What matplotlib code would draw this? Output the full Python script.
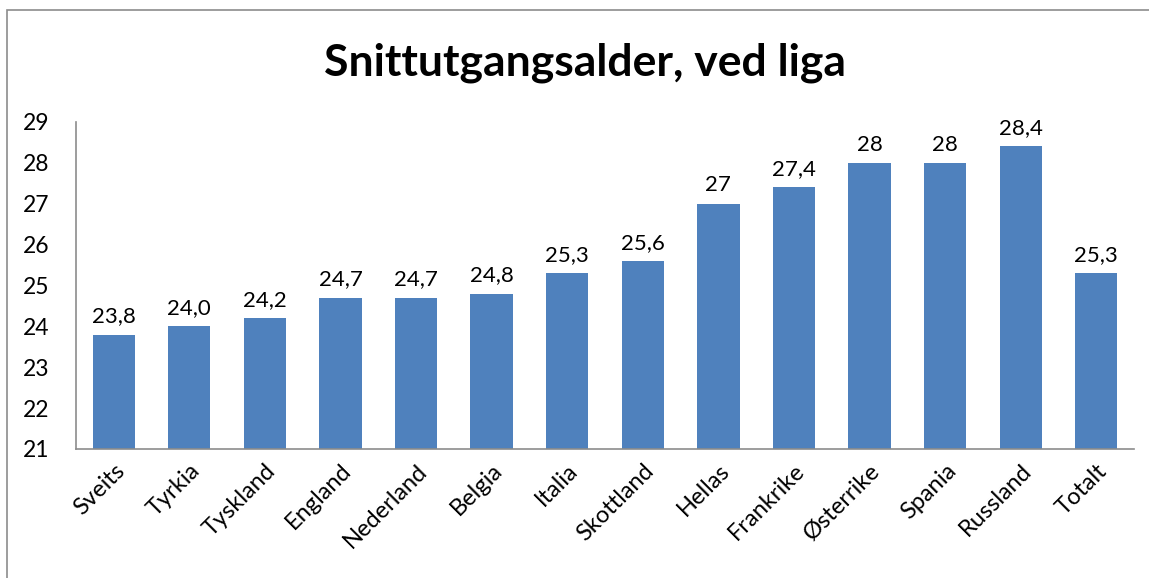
import matplotlib
matplotlib.use("Agg")
import matplotlib.pyplot as plt
from matplotlib.patches import Rectangle

categories = ["Sveits", "Tyrkia", "Tyskland", "England", "Nederland", "Belgia",
              "Italia", "Skottland", "Hellas", "Frankrike", "Østerrike", "Spania",
              "Russland", "Totalt"]
values = [23.8, 24.0, 24.2, 24.7, 24.7, 24.8, 25.3, 25.6, 27.0, 27.4, 28.0, 28.0, 28.4, 25.3]
value_labels = ["23,8", "24,0", "24,2", "24,7", "24,7", "24,8", "25,3", "25,6",
                "27", "27,4", "28", "28", "28,4", "25,3"]
yticks = [21, 22, 23, 24, 25, 26, 27, 28, 29]

plt.rcParams['font.family'] = ['Lato', 'DejaVu Sans']

fig = plt.figure(figsize=(11.49, 5.78), dpi=100)
ax = fig.add_axes([0.0661, 0.2232, 0.9209, 0.5658])

x = list(range(len(categories)))
bars = ax.bar(x, values, width=0.56, color="#4F81BD", bottom=0)
ax.set_ylim(21, 29)
ax.set_xlim(-0.5, len(categories) - 0.5)
ax.set_yticks(yticks)
ax.set_yticklabels([str(t) for t in yticks], fontsize=16.5)
ax.set_xticks(x)
ax.set_xticklabels(categories, rotation=45, ha="right", rotation_mode="anchor", fontsize=17)
ax.tick_params(axis="both", length=0)
ax.tick_params(axis="y", pad=19)
ax.tick_params(axis="x", pad=8)

for s in ["top", "right"]:
    ax.spines[s].set_visible(False)
for s in ["left", "bottom"]:
    ax.spines[s].set_color("#8c8c8c")
    ax.spines[s].set_linewidth(1.2)

for xi, v, lab in zip(x, values, value_labels):
    ax.annotate(lab, (xi, v), xytext=(0, 6), textcoords="offset points",
                ha="center", va="bottom", fontsize=16)

fig.text(0.509, 0.892, "Snittutgangsalder, ved liga", ha="center", va="center",
         fontsize=32, fontweight="bold")

fig.patches.append(Rectangle((7 / 1149, -0.1), 1.0, 1.1 - 10 / 578,
                             transform=fig.transFigure, fill=False,
                             edgecolor="#8c8c8c", linewidth=1.2))

fig.savefig("out.png", dpi=100)
